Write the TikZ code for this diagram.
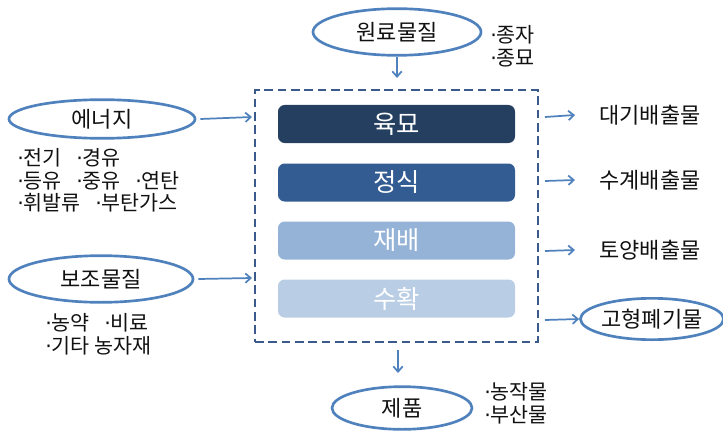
\documentclass[tikz,border=0pt]{standalone}
\usepackage{fontspec}
\setmainfont{Noto Sans CJK KR}
\newfontfamily\dotfont{DejaVu Sans}
\newcommand\md{{\dotfont ·}}
\usetikzlibrary{arrows.meta,shapes.geometric}
\definecolor{ell}{HTML}{4F81BD}
\definecolor{arr}{HTML}{4F81BD}
\definecolor{dash}{HTML}{3A5A8C}
\definecolor{c1}{HTML}{243F60}
\definecolor{c2}{HTML}{325C92}
\definecolor{c3}{HTML}{95B3D7}
\definecolor{c4}{HTML}{B9CDE5}
\definecolor{txt}{HTML}{111111}
\begin{document}
\begin{tikzpicture}[x=0.75pt,y=-0.75pt,
  ov/.style={draw=ell,line width=2pt,ellipse,inner sep=0pt,font=\fontsize{16.5}{19}\selectfont,text=txt},
  bar/.style={fill=#1,rounded corners=5pt,minimum width=177.75pt,minimum height=28.5pt,inner sep=0pt,text=white,font=\fontsize{19}{22}\selectfont},
  lbl/.style={font=\fontsize{16.5}{19}\selectfont,text=txt,inner sep=0pt},
  note/.style={font=\fontsize{15.5}{17}\selectfont,text=txt,inner sep=0pt,align=left},
  ar/.style={draw=arr,line width=1.3pt,-{Straight Barb[length=4pt,width=7pt]}}]
\useasboundingbox (0,0) rectangle (723,431);
% main dashed box
\node[draw=dash,dash pattern=on 6.5pt off 3.5pt,line width=2pt,minimum width=212.25pt,minimum height=189pt,inner sep=0pt] (box) at (396.5,216) {};
\node[bar=c1] (b1) at (396.5,124) {육묘};
\node[bar=c2] (b2) at (396.5,182.5) {정식};
\node[bar=c3] (b3) at (396.5,240.5) {재배};
\node[bar=c4] (b4) at (396.5,298.5) {수확};
% top
\node[ov,minimum width=126pt,minimum height=35pt] (raw) at (397,32) {원료물질};
\node[note,anchor=west] (rawn) at (490,46) {\md 종자\\\md 종묘};
\coordinate (boxtop) at (397,78);
\draw[ar] (raw.south) -- (boxtop);
% left
\node[ov,minimum width=139.5pt,minimum height=29pt] (en) at (102,119) {에너지};
\node[note,anchor=north west] (enn) at (17,148) {\md 전기\hspace{0.7em}\md 경유\\\md 등유\hspace{0.7em}\md 중유\hspace{0.7em}\md 연탄\\\md 휘발류\hspace{0.7em}\md 부탄가스};
\coordinate (enend) at (252,117);
\draw[ar] (en.east) ++(4,0) coordinate (ens) -- (enend);
\node[ov,minimum width=138pt,minimum height=35pt] (aux) at (101,279) {보조물질};
\node[note,anchor=north west] (auxn) at (45,313) {\md 농약\hspace{0.7em}\md 비료\\\md 기타 농자재};
\coordinate (auxend) at (252,278);
\draw[ar] (aux.east) ++(4,0) -- (auxend);
% right
\node[lbl,anchor=west] (o1) at (599,115) {대기배출물};
\node[lbl,anchor=west] (o2) at (599,180) {수계배출물};
\node[lbl,anchor=west] (o3) at (599,250) {토양배출물};
\node[ov,minimum width=102pt,minimum height=31pt] (o4) at (652,319) {고형폐기물};
\coordinate (r1) at (545,117);
\coordinate (r2) at (545,181);
\coordinate (r3) at (545,251);
\coordinate (r4) at (545,320);
\draw[ar] (r1) -- ([xshift=-18]o1.west);
\draw[ar] (r2) -- ([xshift=-18]o2.west);
\draw[ar] (r3) -- ([xshift=-18]o3.west);
\draw[ar] (r4) -- (o4.west);
% bottom
\node[ov,minimum width=105pt,minimum height=32pt] (prod) at (402,408) {제품};
\node[note,anchor=west] (prodn) at (484,403) {\md 농작물\\\md 부산물};
\coordinate (boxbot) at (398,350);
\draw[ar] (boxbot) -- (398,373) coordinate (pe);
\end{tikzpicture}
\end{document}
